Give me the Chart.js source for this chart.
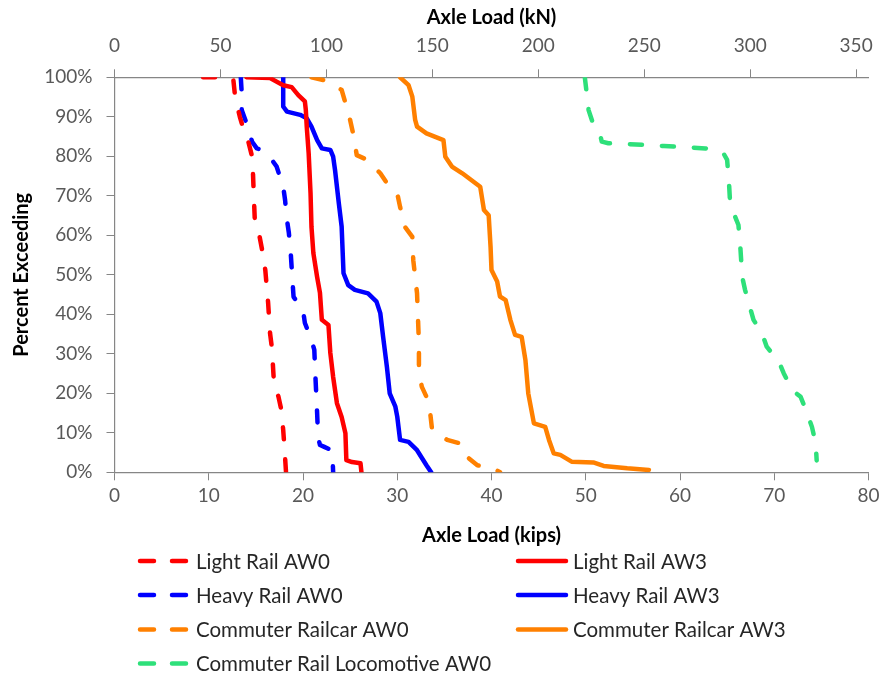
<!DOCTYPE html>
<html>
<head>
<meta charset="utf-8">
<script src="https://cdn.jsdelivr.net/npm/chart.js@4.4.1/dist/chart.umd.min.js"></script>
<style>
  body { margin: 0; background: #fff; }
  canvas { display: block; }
</style>
</head>
<body>
<canvas id="chart" width="884" height="675"></canvas>
<script>
const KN_PER_KIP = 4.448;
const KIPS_MAX = 80;

// exceedance curves: axle load in kips vs percent of axles exceeding it
const lightRailAW0Kips = [9.4, 11.0, 12.6, 12.8, 13.3, 13.7, 14.2, 14.6, 14.7, 14.8, 14.9, 15.4, 15.7, 16.0, 16.3, 16.5, 16.7, 16.9, 17.4, 17.7, 17.9, 18.0, 18.2];
const lightRailAW0Pct = [100, 100, 99.6, 95.0, 90.0, 86.7, 83.7, 79.9, 75.3, 68.9, 63.1, 59.6, 55.8, 51.2, 42.9, 35.3, 31.5, 23.4, 19.1, 15.8, 10.7, 7.4, 0];

const lightRailAW3Kips = [14.0, 16.5, 17.9, 18.8, 19.5, 20.2, 20.3, 20.4, 20.6, 20.8, 20.9, 21.1, 21.5, 21.8, 22.0, 22.7, 22.9, 23.2, 23.6, 24.1, 24.5, 24.6, 25.2, 26.1, 26.2];
const lightRailAW3Pct = [100, 99.8, 98.0, 97.5, 95.5, 93.9, 91.7, 87.4, 80.8, 70.7, 62.1, 55.5, 49.4, 45.4, 38.6, 37.3, 30.2, 24.1, 17.5, 14.0, 9.9, 3.1, 2.6, 2.3, 0];

const heavyRailAW0Kips = [13.4, 13.5, 13.5, 14.0, 14.6, 15.1, 15.4, 16.7, 17.2, 17.9, 18.1, 18.3, 18.5, 18.7, 18.9, 19.0, 20.0, 20.2, 20.9, 21.2, 21.3, 21.5, 21.6, 21.8, 22.2, 23.1, 23.2];
const heavyRailAW0Pct = [100, 96.0, 91.7, 88.4, 83.7, 82.0, 81.8, 79.1, 77.4, 72.3, 68.9, 63.9, 60.6, 55.5, 47.9, 44.4, 41.1, 37.8, 33.5, 31.0, 25.1, 15.0, 8.9, 6.9, 6.5, 5.5, 0];

const heavyRailAW3Kips = [17.9, 17.9, 18.3, 19.7, 20.4, 20.9, 21.5, 22.0, 22.9, 23.2, 23.4, 23.8, 24.1, 24.3, 24.8, 25.5, 26.9, 27.8, 28.2, 28.5, 28.9, 29.2, 29.8, 30.0, 30.3, 31.2, 32.1, 33.1, 33.6];
const heavyRailAW3Pct = [100, 92.6, 91.3, 90.5, 89.6, 87.5, 84.1, 82.0, 81.6, 79.9, 76.5, 68.1, 62.2, 50.4, 47.4, 46.2, 45.3, 43.2, 40.3, 34.3, 26.7, 20.0, 16.6, 14.1, 8.2, 7.7, 5.6, 1.8, 0];

const commuterAW0Kips = [20.9, 22.5, 24.1, 24.5, 25.0, 25.4, 25.7, 26.8, 28.2, 28.9, 30.0, 30.3, 30.8, 31.6, 31.7, 32.1, 32.3, 32.3, 32.6, 33.1, 33.5, 33.7, 35.3, 36.7, 37.4, 38.5, 40.2, 40.9];
const commuterAW0Pct = [100, 99.1, 96.8, 93.5, 89.2, 84.9, 80.3, 79.1, 75.7, 73.2, 70.6, 67.2, 62.2, 59.6, 53.7, 45.3, 32.7, 25.9, 21.7, 19.1, 14.9, 10.7, 8.2, 7.3, 3.9, 1.8, 1.0, 0];

const commuterAW3Kips = [30.3, 31.2, 31.6, 31.9, 32.1, 33.1, 34.9, 35.1, 35.8, 36.9, 38.8, 39.2, 39.7, 39.9, 40.0, 40.6, 40.9, 41.5, 42.0, 42.5, 43.2, 43.6, 43.9, 44.5, 45.7, 46.1, 46.6, 47.3, 48.5, 50.8, 51.9, 54.4, 56.7];
const commuterAW3Pct = [100, 98.0, 95.1, 89.2, 87.5, 85.8, 84.1, 79.9, 77.4, 75.7, 72.3, 66.4, 65.1, 57.1, 51.2, 48.3, 44.5, 43.6, 38.6, 34.8, 34.3, 28.4, 20.0, 12.4, 11.5, 8.2, 4.8, 4.4, 2.7, 2.5, 1.6, 1.0, 0.6];

const locomotiveAW0Kips = [49.9, 50.1, 50.3, 50.7, 51.5, 51.7, 52.4, 54.4, 58.3, 61.4, 62.7, 64.6, 65.0, 65.2, 65.3, 65.7, 66.2, 66.4, 66.6, 66.9, 67.5, 67.8, 68.7, 69.2, 70.5, 71.0, 71.9, 72.8, 73.5, 74.0, 74.4, 74.5];
const locomotiveAW0Pct = [100, 96.0, 91.7, 88.8, 85.8, 83.7, 83.3, 83.1, 82.6, 82.2, 82.0, 80.8, 79.1, 73.2, 68.9, 65.6, 62.6, 57.1, 49.5, 46.2, 41.1, 38.6, 35.2, 31.8, 28.0, 25.1, 20.8, 19.1, 14.9, 11.5, 7.3, 3.0];

const seriesLabels = [
    "Light Rail AW0", "Light Rail AW3",
    "Heavy Rail AW0", "Heavy Rail AW3",
    "Commuter Railcar AW0", "Commuter Railcar AW3",
    "Commuter Rail Locomotive AW0"
];

const RED = "#ff0000", BLUE = "#0000ff", ORANGE = "#ff8000", GREEN = "#2ee07a";
const AXIS_GREY = "#868686";
const LINE_DASH = [12, 20];

function toPoints(xs, ys) {
    return xs.map((x, i) => ({ x, y: ys[i] }));
}

function series(label, xs, ys, color, dashed) {
    return {
        label,
        data: toPoints(xs, ys),
        borderColor: color,
        backgroundColor: color,
        borderWidth: 4.5,
        borderDash: dashed ? LINE_DASH : [],
        borderCapStyle: "round",
        borderJoinStyle: "round",
        showLine: true,
        pointRadius: 0,
        tension: 0
    };
}

// two-column legend under the x axis title
const legendRows = [561, 595, 629.5, 663.5];
const legendCols = [{ x0: 140, x1: 186, tx: 196 }, { x0: 518, x1: 566, tx: 573 }];

const gridLegend = {
    id: "gridLegend",
    afterDraw(chart) {
        const ctx = chart.ctx;
        ctx.save();
        ctx.font = "20.5px Lato";
        ctx.textBaseline = "middle";
        ctx.fillStyle = "#262626";
        chart.data.datasets.forEach((ds, i) => {
            const col = legendCols[i % 2];
            const y = legendRows[Math.floor(i / 2)];
            ctx.beginPath();
            ctx.lineWidth = 4.5;
            ctx.lineCap = "round";
            ctx.strokeStyle = ds.borderColor;
            ctx.setLineDash(ds.borderDash.length ? [14, 18] : []);
            ctx.moveTo(col.x0, y);
            ctx.lineTo(col.x1, y);
            ctx.stroke();
            ctx.setLineDash([]);
            ctx.fillText(ds.label, col.tx, y + 1);
        });
        ctx.restore();
    }
};

const tickFont = { family: "Lato", size: 19 };
const titleFont = { family: "Lato", size: 20, weight: "bold" };

function axisGrid() {
    return { display: true, drawOnChartArea: false, drawTicks: true, tickLength: 8, tickColor: AXIS_GREY, tickWidth: 1 };
}

function draw() {
    new Chart(document.getElementById("chart"), {
        type: "scatter",
        data: {
            datasets: [
                series(seriesLabels[0], lightRailAW0Kips, lightRailAW0Pct, RED, true),
                series(seriesLabels[1], lightRailAW3Kips, lightRailAW3Pct, RED, false),
                series(seriesLabels[2], heavyRailAW0Kips, heavyRailAW0Pct, BLUE, true),
                series(seriesLabels[3], heavyRailAW3Kips, heavyRailAW3Pct, BLUE, false),
                series(seriesLabels[4], commuterAW0Kips, commuterAW0Pct, ORANGE, true),
                series(seriesLabels[5], commuterAW3Kips, commuterAW3Pct, ORANGE, false),
                series(seriesLabels[6], locomotiveAW0Kips, locomotiveAW0Pct, GREEN, true)
            ]
        },
        options: {
            responsive: false,
            animation: false,
            events: [],
            layout: { padding: { left: 6, right: 15.5, top: 2, bottom: 123 } },
            plugins: { legend: { display: false }, tooltip: { enabled: false } },
            scales: {
                x: {
                    type: "linear",
                    position: "bottom",
                    min: 0,
                    max: KIPS_MAX,
                    ticks: { stepSize: 10, font: tickFont, color: "#595959", padding: 4, maxRotation: 0 },
                    grid: axisGrid(),
                    border: { color: AXIS_GREY, width: 1.2 },
                    title: { display: true, text: "Axle Load (kips)", font: titleFont, color: "#000", padding: { top: 4, bottom: 4 } },
                    afterFit(scale) {
                        scale.height = 79.7;
                        scale.paddingLeft = 0;
                        scale.paddingRight = 0;
                    }
                },
                x2: {
                    type: "linear",
                    position: "top",
                    min: 0,
                    max: KIPS_MAX * KN_PER_KIP,
                    ticks: { stepSize: 50, includeBounds: false, font: tickFont, color: "#595959", padding: 12, maxRotation: 0 },
                    grid: axisGrid(),
                    border: { color: AXIS_GREY, width: 1.2 },
                    title: { display: true, text: "Axle Load (kN)", font: titleFont, color: "#000", padding: { top: 4, bottom: 4 } },
                    afterFit(scale) {
                        scale.height = 75.3;
                        scale.paddingLeft = 0;
                        scale.paddingRight = 0;
                    }
                },
                y: {
                    type: "linear",
                    min: 0,
                    max: 100,
                    ticks: { stepSize: 10, font: tickFont, color: "#595959", padding: 14, callback: v => v + "%" },
                    grid: axisGrid(),
                    border: { color: AXIS_GREY, width: 1.2 },
                    title: { display: true, text: "Percent Exceeding", font: titleFont, color: "#000", padding: { top: 4, bottom: 4 } },
                    afterFit(scale) {
                        scale.width = 108.5;
                    }
                }
            }
        },
        plugins: [gridLegend]
    });
}

if (document.fonts && document.fonts.load) {
    Promise.all([document.fonts.load("19px Lato"), document.fonts.load("bold 20px Lato")]).then(draw, draw);
} else {
    draw();
}
</script>
</body>
</html>
